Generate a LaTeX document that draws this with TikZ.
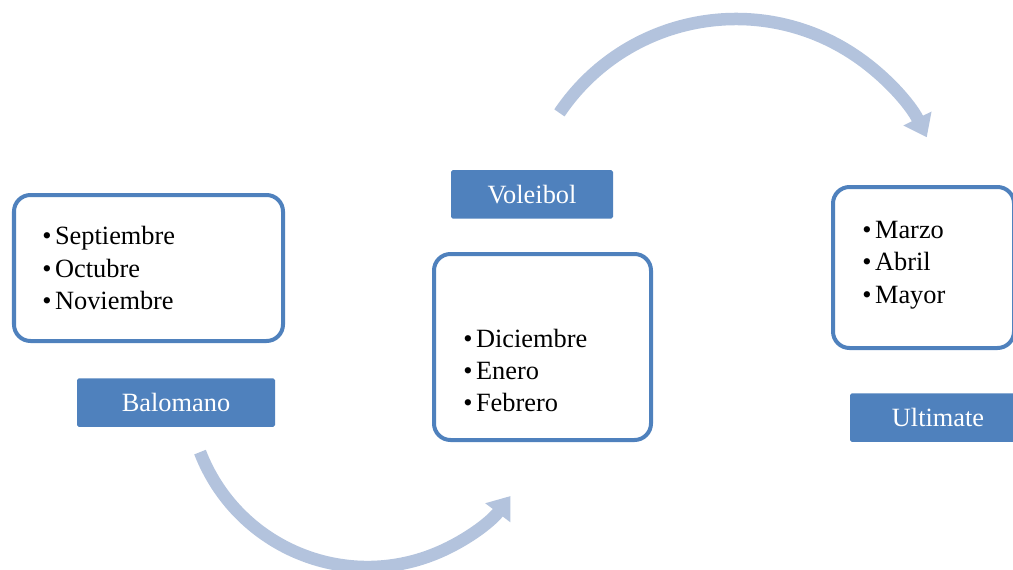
\documentclass[tikz,border=0pt]{standalone}
\usepackage{fontspec}
\setmainfont{Liberation Serif}
\usetikzlibrary{arrows.meta, positioning}
\definecolor{accentblue}{RGB}{79,129,189}
\definecolor{arcblue}{RGB}{179,195,221}

\begin{document}
\begin{tikzpicture}[
  monthbox/.style={draw=accentblue, line width=0.08cm, rounded corners=0.33cm, fill=white},
  itemlist/.style={inner sep=0pt, align=left, font=\fontsize{15pt}{18.4pt}\selectfont, anchor=west},
  tagbox/.style={fill=accentblue, text=white, rounded corners=1pt, minimum height=0.97cm, font=\fontsize{15pt}{18pt}\selectfont},
  bendarrow/.style={draw=arcblue, line width=0.25cm, -{Triangle[length=0.42cm, width=0.6cm]}},
]
\useasboundingbox (0,0) rectangle (20.26,-11.4);

% month boxes
\node[monthbox, minimum width=5.38cm, minimum height=2.92cm] (m1) at (2.97,-5.36) {};
\node[monthbox, minimum width=4.34cm, minimum height=3.72cm] (m2) at (10.85,-6.94) {};
\node[monthbox, minimum width=3.62cm, minimum height=3.22cm] (m3) at (18.47,-5.35) {};

\node[itemlist] (l1) at ([xshift=0.60cm]m1.west) {\textbullet\hspace{2pt}Septiembre\\\textbullet\hspace{2pt}Octubre\\\textbullet\hspace{2pt}Noviembre};
\node[itemlist] (l2) at ([xshift=0.62cm, yshift=-0.47cm]m2.west) {\textbullet\hspace{2pt}Diciembre\\\textbullet\hspace{2pt}Enero\\\textbullet\hspace{2pt}Febrero};
\node[itemlist] (l3) at ([xshift=0.62cm, yshift=0.05cm]m3.west) {\textbullet\hspace{2pt}Marzo\\\textbullet\hspace{2pt}Abril\\\textbullet\hspace{2pt}Mayor};

% sport labels
\node[tagbox, minimum width=3.96cm, below=0.7cm of m1, xshift=0.55cm] (balomano) {Balomano};
\node[tagbox, minimum width=3.24cm, above=0.66cm of m2, xshift=-0.21cm] (voleibol) {Voleibol};
\node[tagbox, minimum width=3.52cm, below=0.86cm of m3, xshift=0.29cm] (ultimate) {Ultimate};

% curved arrows
\coordinate (c1) at (7.35,-7.75);
\coordinate (c2) at (14.72,-4.64);
\draw[bendarrow] ([shift={(201.1:3.59cm)}]c1) arc[start angle=201.1, end angle=322.8, radius=3.59cm];
\draw[bendarrow] ([shift={(146:4.26cm)}]c2) arc[start angle=146, end angle=26.4, radius=4.26cm];
\end{tikzpicture}
\end{document}
